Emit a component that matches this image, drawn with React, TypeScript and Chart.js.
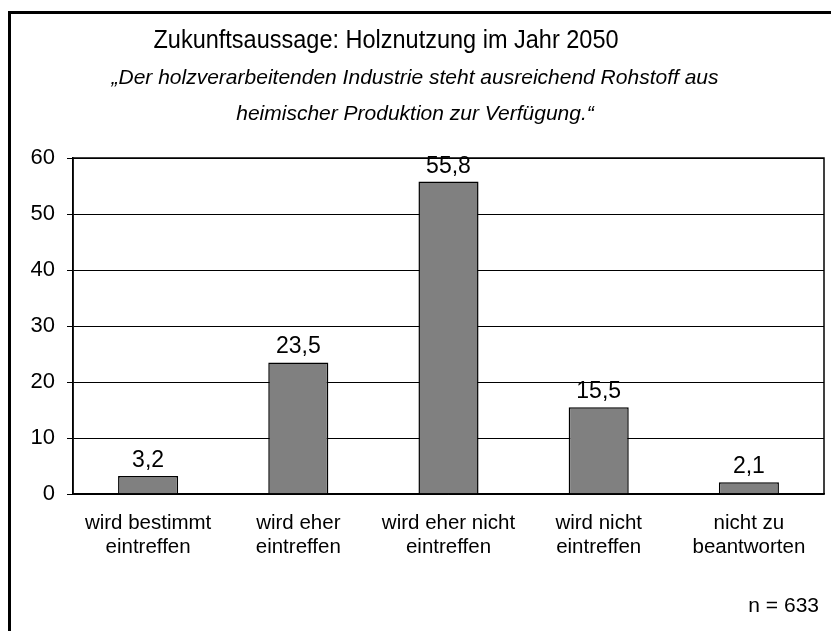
import React, { useEffect, useRef } from "react";
import { Chart, registerables } from "chart.js";

Chart.register(...registerables);

const categories: string[][] = [
  ["wird bestimmt", "eintreffen"],
  ["wird eher", "eintreffen"],
  ["wird eher nicht", "eintreffen"],
  ["wird nicht", "eintreffen"],
  ["nicht zu", "beantworten"],
];
const values: number[] = [3.2, 23.5, 55.8, 15.5, 2.1];
const yTicks: number[] = [0, 10, 20, 30, 40, 50, 60];
const title = "Zukunftsaussage: Holznutzung im Jahr 2050";
const subtitleLines = [
  "„Der holzverarbeitenden Industrie steht ausreichend Rohstoff aus",
  "heimischer Produktion zur Verfügung.“",
];
const note = "n = 633";

const FONT = "'Liberation Sans', Arial, sans-serif";

export default function App() {
  const ref = useRef<HTMLCanvasElement>(null);

  useEffect(() => {
    if (!ref.current) return;
    const decor = {
      id: "decor",
      afterDraw(chart: any) {
        const ctx = chart.ctx as CanvasRenderingContext2D;
        const a = chart.chartArea;
        ctx.save();
        // outer frame (left and top visible)
        ctx.fillStyle = "#000";
        ctx.fillRect(8, 11, 3, 620);
        ctx.fillRect(8, 11, 823, 3);
        // plot frame
        ctx.strokeStyle = "#000";
        ctx.lineWidth = 1.5;
        ctx.strokeRect(a.left, a.top, a.right - a.left, a.bottom - a.top);
        // titles
        ctx.fillStyle = "#000";
        ctx.textAlign = "center";
        ctx.textBaseline = "middle";
        ctx.save();
        ctx.translate(386, 41);
        ctx.scale(1, 1.1);
        ctx.font = `23.5px ${FONT}`;
        ctx.fillText(title, 0, 0);
        ctx.restore();
        ctx.font = `italic 21px ${FONT}`;
        ctx.fillText(subtitleLines[0], 415, 78);
        ctx.fillText(subtitleLines[1], 415, 114);
        // note
        ctx.font = `21px ${FONT}`;
        ctx.textAlign = "right";
        ctx.fillText(note, 819, 606);
        // data labels
        const meta = chart.getDatasetMeta(0);
        ctx.font = `23px ${FONT}`;
        ctx.textAlign = "center";
        ctx.textBaseline = "alphabetic";
        meta.data.forEach((bar: any, i: number) => {
          ctx.fillText(values[i].toFixed(1).replace(".", ","), bar.x, bar.y - 9);
        });
        ctx.restore();
      },
    };

    const chart = new Chart(ref.current, {
      type: "bar",
      data: {
        labels: categories,
        datasets: [
          {
            data: values,
            backgroundColor: "#808080",
            borderColor: "#000",
            borderWidth: 1.5,
            barPercentage: 0.4,
            categoryPercentage: 1,
          },
        ],
      },
      options: {
        responsive: false,
        animation: false,
        layout: { padding: { top: 158, right: 7, left: 0, bottom: 0 } },
        plugins: {
          legend: { display: false },
          tooltip: { enabled: false },
          title: { display: false },
        },
        scales: {
          x: {
            grid: { display: false, drawTicks: false },
            border: { display: true, color: "#000", width: 1.5 },
            ticks: {
              color: "#000",
              font: { family: FONT, size: 20.5, lineHeight: 1.17 },
              padding: 17,
              maxRotation: 0,
              autoSkip: false,
            },
            afterFit(scale: any) {
              scale.height = 137;
            },
          },
          y: {
            min: 0,
            max: 60,
            afterBuildTicks(scale: any) {
              scale.ticks = yTicks.map((v) => ({ value: v }));
            },
            grid: { color: "#000", lineWidth: 1, tickLength: 6, drawTicks: true },
            border: { display: true, color: "#000", width: 1.5 },
            ticks: {
              color: "#000",
              font: { family: FONT, size: 22 },
              padding: 12,
            },
            afterFit(scale: any) {
              scale.width = 73;
            },
          },
        },
      },
      plugins: [decor],
    });
    return () => chart.destroy();
  }, []);

  return (
    <div style={{ position: "fixed", left: 0, top: 0, width: 831, height: 631, background: "#fff" }}>
      <canvas ref={ref} width={831} height={631} style={{ display: "block" }} />
    </div>
  );
}
